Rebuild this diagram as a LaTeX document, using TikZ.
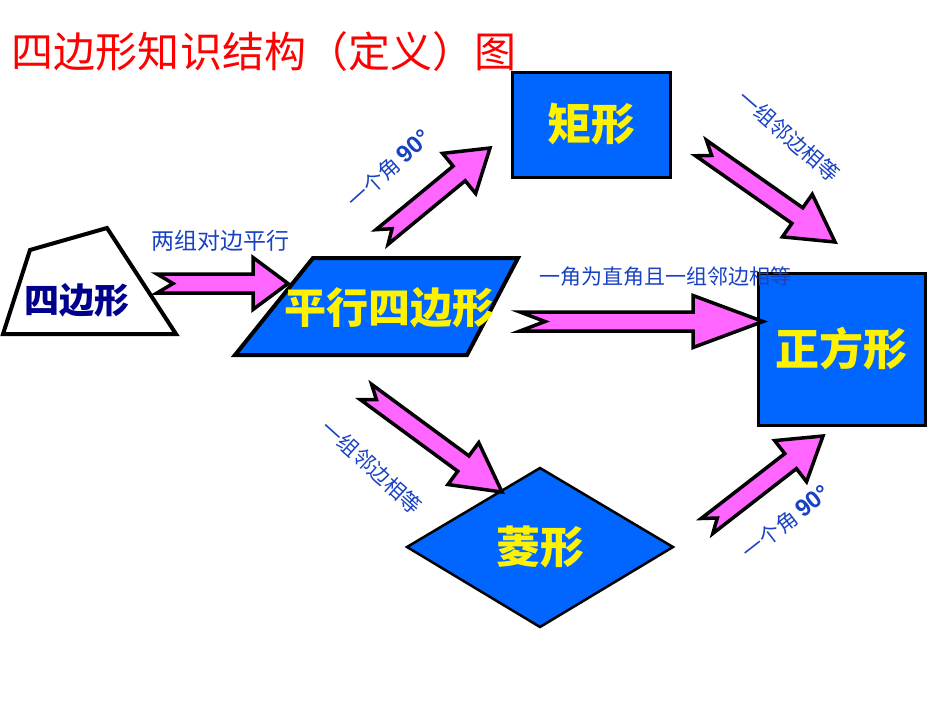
\documentclass[tikz,border=0pt]{standalone}
\usepackage{fontspec}
\setmainfont{Noto Sans CJK SC}
\newfontfamily\arialfont{Liberation Sans}
\usepackage{tikz}
\usetikzlibrary{calc}
\definecolor{boxblue}{RGB}{0,102,255}
\definecolor{arrowpink}{RGB}{255,102,255}
\definecolor{labelblue}{RGB}{25,65,195}
\definecolor{titlered}{RGB}{255,0,0}
\definecolor{quadnavy}{RGB}{0,0,140}
\tikzset{every picture/.style={line width=0.75pt}}
\tikzset{
  fatarrow/.style={draw=black,fill=arrowpink,line width=3.5pt,line join=miter},
  shapebox/.style={draw=black,fill=boxblue,line width=3pt,inner sep=0pt},
  shapetext/.style={text=yellow,font=\bfseries\fontsize{44}{44}\selectfont},
  edgetext/.style={text=labelblue,font=\fontsize{21}{21}\selectfont,inner sep=0pt}
}
% #1 tail, #2 tip, #3 head length, #4 notch depth
\newcommand{\fatarrow}[4]{%
\draw[fatarrow] ($(#1)!9.5pt!90:(#2)$) -- ($(#2)!#3!(#1)!9.5pt!90:(#2)$)
  -- ($(#2)!#3!(#1)!26pt!90:(#2)$) -- (#2)
  -- ($(#2)!#3!(#1)!26pt!-90:(#2)$) -- ($(#2)!#3!(#1)!9.5pt!-90:(#2)$)
  -- ($(#1)!9.5pt!-90:(#2)$) -- ($(#1)!#4!(#2)$) -- cycle;}
\newcommand{\ninety}{{\arialfont\bfseries\fontsize{24}{24}\selectfont 90°}}

\begin{document}
\begin{tikzpicture}[x=1pt,y=-1pt]
\useasboundingbox (0,0) rectangle (950,713);
\node[text=titlered,font=\fontsize{42}{42}\selectfont,inner sep=0pt] (title) at (264,52) {四边形知识结构（定义）图};
%
\draw[line width=4pt,fill=white] (30,250) -- (107,228) -- (176,334) -- (3,334) -- cycle;
\node[text=quadnavy,font=\bfseries\fontsize{35}{35}\selectfont] (quad) at (77,300) {四边形};
%
\draw[shapebox,line width=4pt] (313,258) -- (518,258) -- (467,355) -- (235,355) -- cycle;
\node[shapetext,font=\bfseries\fontsize{42}{42}\selectfont] (para) at (389,308) {平行四边形};
%
\node[shapebox,minimum width=158pt,minimum height=105pt] (rect) at (591,124.5) {};
\node[shapetext] at (rect) {矩形};
\node[shapebox,minimum width=167pt,minimum height=152pt] (square) at (841.5,349) {};
\node[shapetext] at (square) {正方形};
\draw[shapebox,line width=2.5pt] (407,547) -- (540,468) -- (673,547) -- (540,627) -- cycle;
\node[shapetext] (rhombus) at (540,547) {菱形};
%
\coordinate (q1) at (157,283.5);  \coordinate (q2) at (288,283.5);
\coordinate (p1) at (382,237);    \coordinate (p2) at (490,148);
\coordinate (r1) at (701,148);    \coordinate (r2) at (835,242);
\coordinate (s1) at (520,321.5);  \coordinate (s2) at (763,321.5);
\coordinate (t1) at (366,392);    \coordinate (t2) at (502,492);
\coordinate (u1) at (707,526);    \coordinate (u2) at (823,436);
\fatarrow{q1}{q2}{35pt}{16pt}
\fatarrow{p1}{p2}{40pt}{13pt}
\fatarrow{r1}{r2}{46pt}{13pt}
\fatarrow{s1}{s2}{70pt}{25pt}
\fatarrow{t1}{t2}{48pt}{13pt}
\fatarrow{u1}{u2}{41pt}{13pt}
%
\node[edgetext,font=\fontsize{23}{23}\selectfont] (lq) at (220,241) {两组对边平行};
\node[edgetext,rotate=42] (lp) at (389,169) {一个角 \ninety};
\node[edgetext,rotate=-41] (lr) at (789,136) {一组邻边相等};
\node[edgetext] (ls) at (665,277) {一角为直角且一组邻边相等};
\node[edgetext,rotate=-42] (lt) at (372,467) {一组邻边相等};
\node[edgetext,rotate=38] (lu) at (786,522) {一个角 \ninety};
\end{tikzpicture}
\end{document}
